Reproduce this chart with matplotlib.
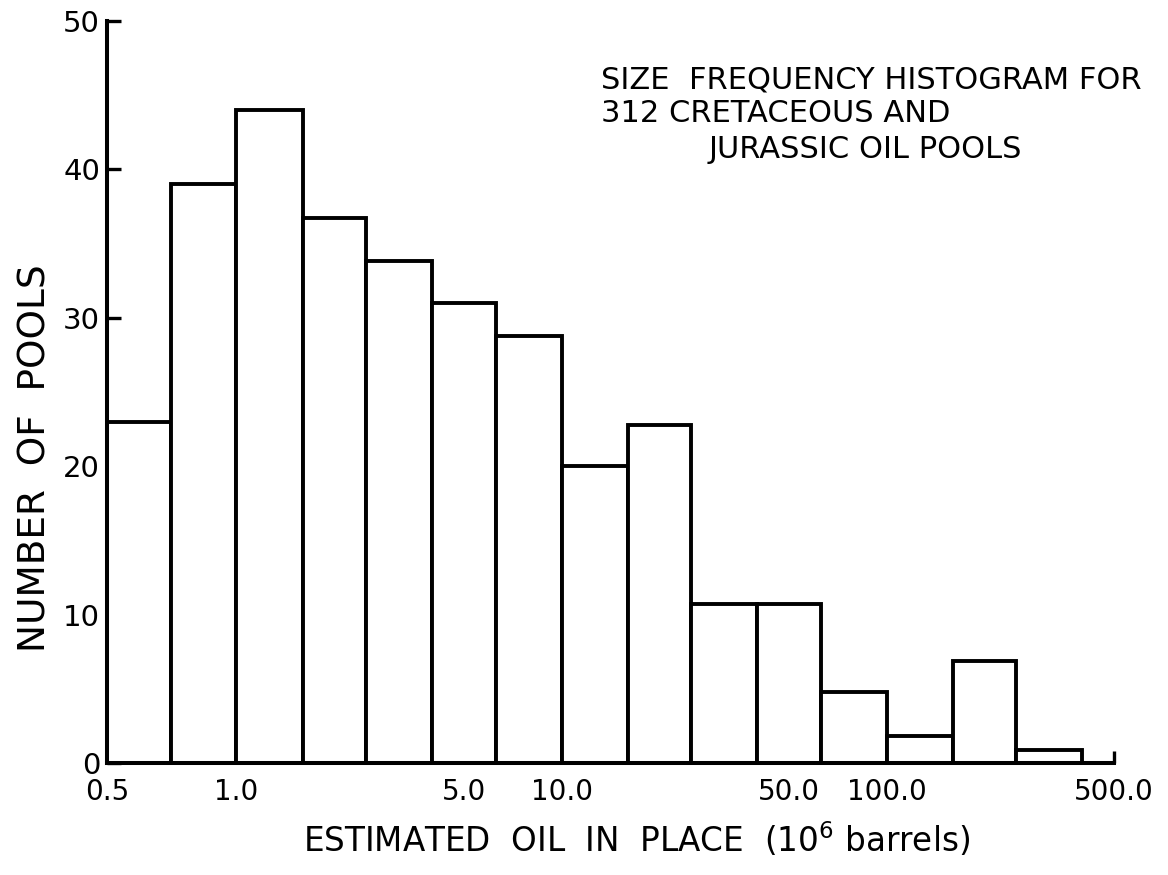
import matplotlib
matplotlib.use("Agg")
import matplotlib.pyplot as plt

# ---- data ----
bin_edges = [0.4, 0.63, 1.0, 1.6, 2.5, 4.0, 6.3, 10, 16, 25, 40, 63, 100, 160, 250, 400]
counts = [23, 39, 44, 36.7, 33.8, 31, 28.8, 20, 22.8, 10.7, 10.7, 4.8, 1.8, 6.9, 0.9]
x_tick_values = [0.4, 1, 5, 10, 50, 100, 500]
x_tick_labels = ["0.5", "1.0", "5.0", "10.0", "50.0", "100.0", "500.0"]
y_tick_values = [0, 10, 20, 30, 40, 50]
title_lines = ["SIZE  FREQUENCY HISTOGRAM FOR", "312 CRETACEOUS AND", "JURASSIC OIL POOLS"]

plt.rcParams["font.family"] = ["DejaVu Sans"]
plt.rcParams["mathtext.fontset"] = "dejavusans"

W, H = 1168, 875
fig = plt.figure(figsize=(W / 100, H / 100), dpi=100)
ax = fig.add_axes([107 / W, 1 - 763 / H, (1114 - 107) / W, (763 - 21) / H])

lefts = bin_edges[:-1]
widths = [b - a for a, b in zip(bin_edges[:-1], bin_edges[1:])]
ax.bar(lefts, counts, width=widths, align="edge", facecolor="white",
       edgecolor="black", linewidth=2.8, zorder=2)

ax.set_xscale("log")
ax.set_xlim(0.4, 500)
ax.set_ylim(0, 50)
ax.set_xticks(x_tick_values)
ax.set_xticklabels(x_tick_labels)
ax.xaxis.set_minor_locator(matplotlib.ticker.NullLocator())
ax.set_yticks(y_tick_values)

for s in ["top", "right"]:
    ax.spines[s].set_visible(False)
for s in ["left", "bottom"]:
    ax.spines[s].set_linewidth(2.9)
    ax.spines[s].set_zorder(3)

ax.tick_params(axis="x", direction="in", length=9, width=2.4, labelsize=20, pad=11)
ax.tick_params(axis="y", direction="in", length=10, width=2.4, labelsize=21, pad=5)

fig.text(637 / W, 1 - 840 / H, "ESTIMATED  OIL  IN  PLACE  (10$^{6}$ barrels)",
         ha="center", va="center", fontsize=23.5)
fig.text(36 / W, 1 - 458 / H, "NUMBER  OF  POOLS", rotation=90,
         ha="center", va="center", fontsize=27)

fig.text(601 / W, 1 - 80 / H, title_lines[0], ha="left", va="center", fontsize=22)
fig.text(601 / W, 1 - 114 / H, title_lines[1], ha="left", va="center", fontsize=22)
fig.text(709 / W, 1 - 150 / H, title_lines[2], ha="left", va="center", fontsize=22)

fig.savefig("out.png", dpi=100, facecolor="white")
